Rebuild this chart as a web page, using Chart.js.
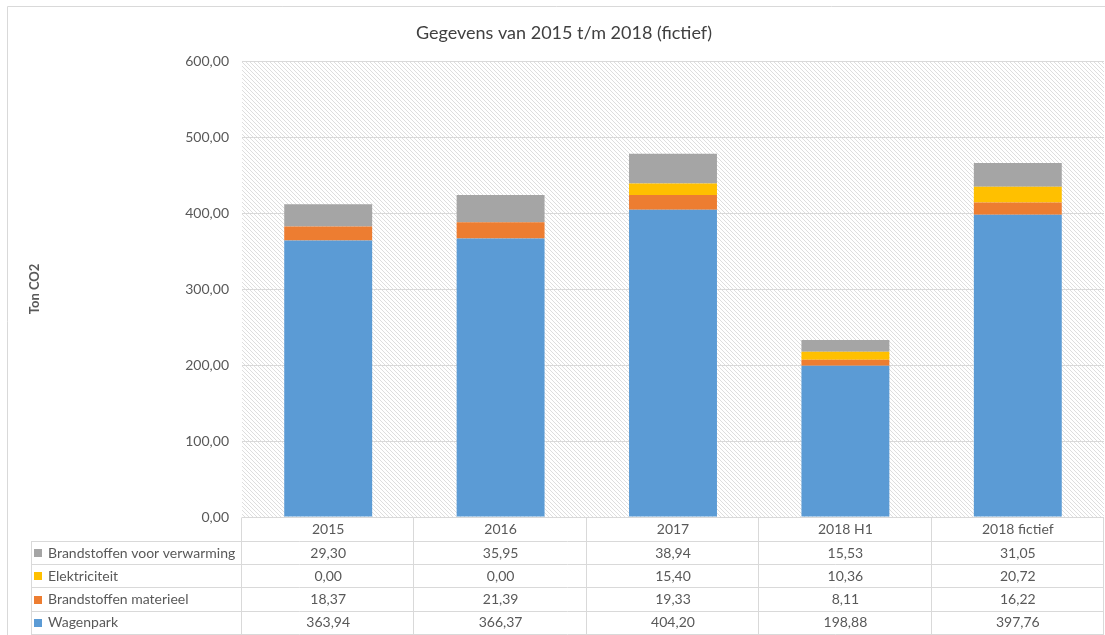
<!DOCTYPE html>
<html>
<head>
<meta charset="utf-8">
<script src="https://cdn.jsdelivr.net/npm/chart.js@4/dist/chart.umd.min.js"></script>
<style>
  html, body { margin: 0; padding: 0; background: #ffffff; }
  #wrap { width: 1105px; height: 635px; position: relative; }
</style>
</head>
<body>
<div id="wrap"><canvas id="c" width="1105" height="635"></canvas></div>
<script>
const categories = ['2015', '2016', '2017', '2018 H1', '2018 fictief'];
const wagenpark = [363.94, 366.37, 404.20, 198.88, 397.76];
const materieel = [18.37, 21.39, 19.33, 8.11, 16.22];
const elektriciteit = [0.00, 0.00, 15.40, 10.36, 20.72];
const verwarming = [29.30, 35.95, 38.94, 15.53, 31.05];
const yTicks = [0, 100, 200, 300, 400, 500, 600];
const chartTitle = 'Gegevens van 2015 t/m 2018 (fictief)';

const FONT = 'Lato, "Open Sans", sans-serif';
const fmt = v => v.toFixed(2).replace('.', ',');

const datasets = [
  { label: 'Wagenpark', data: wagenpark, backgroundColor: '#5B9BD5' },
  { label: 'Brandstoffen materieel', data: materieel, backgroundColor: '#ED7D31' },
  { label: 'Elektriciteit', data: elektriciteit, backgroundColor: '#FFC000' },
  { label: 'Brandstoffen voor verwarming', data: verwarming, backgroundColor: '#A5A5A5' }
];
// table order (top to bottom)
const tableRows = [3, 2, 1, 0];

function makePattern(ctx) {
  const t = document.createElement('canvas');
  t.width = 4; t.height = 4;
  const c = t.getContext('2d');
  c.fillStyle = '#ffffff';
  c.fillRect(0, 0, 4, 4);
  c.strokeStyle = '#dedede';
  c.lineWidth = 1;
  c.beginPath();
  c.moveTo(-1, -1); c.lineTo(5, 5);
  c.moveTo(-1, 3); c.lineTo(1, 5);
  c.moveTo(3, -1); c.lineTo(5, 1);
  c.stroke();
  return ctx.createPattern(t, 'repeat');
}

const decor = {
  id: 'decor',
  beforeDraw(chart) {
    const { ctx, chartArea: a } = chart;
    ctx.save();
    // outer border
    ctx.strokeStyle = '#d9d9d9';
    ctx.lineWidth = 1;
    ctx.beginPath();
    ctx.moveTo(7.5, 700); ctx.lineTo(7.5, 6.5); ctx.lineTo(1200, 6.5);
    ctx.stroke();
    // hatched plot background
    ctx.fillStyle = makePattern(ctx);
    ctx.fillRect(a.left, a.top, a.right - a.left, a.bottom - a.top);
    ctx.restore();
  },
  afterDraw(chart) {
    const { ctx, chartArea: a } = chart;
    const xs = chart.scales.x;
    const n = categories.length;
    const cw = (xs.right - xs.left) / n;
    const top = xs.bottom;
    const rh = 23.2;
    const tableLeft = 31;
    ctx.save();
    // title
    ctx.font = '18px ' + FONT;
    ctx.fillStyle = '#404040';
    ctx.textAlign = 'center';
    ctx.textBaseline = 'middle';
    ctx.fillText(chartTitle, 564, 33);

    ctx.strokeStyle = '#d9d9d9';
    ctx.lineWidth = 1;
    ctx.beginPath();
    // horizontal lines
    ctx.moveTo(a.left, Math.round(a.bottom) + 0.5);
    ctx.lineTo(xs.right, Math.round(a.bottom) + 0.5);
    for (let r = 0; r <= tableRows.length; r++) {
      const y = Math.round(top + r * rh) + 0.5;
      ctx.moveTo(tableLeft, y); ctx.lineTo(xs.right, y);
    }
    // vertical lines
    const yEnd = Math.round(top + tableRows.length * rh) + 0.5;
    ctx.moveTo(tableLeft + 0.5, Math.round(top) + 0.5);
    ctx.lineTo(tableLeft + 0.5, yEnd);
    for (let i = 0; i <= n; i++) {
      const x = Math.round(xs.left + i * cw) - 0.5;
      ctx.moveTo(x, Math.round(a.bottom) + 0.5); ctx.lineTo(x, yEnd);
    }
    ctx.stroke();

    ctx.font = '14px ' + FONT;
    ctx.textBaseline = 'middle';
    ctx.fillStyle = '#595959';
    ctx.textAlign = 'center';
    // header row (category labels)
    const hy = (a.bottom + top) / 2 + 0.5;
    categories.forEach((c, i) => ctx.fillText(c, xs.getPixelForValue(i), hy));

    tableRows.forEach((di, r) => {
      const ds = chart.data.datasets[di];
      const cy = top + r * rh + rh / 2 + 0.5;
      ctx.fillStyle = ds.backgroundColor;
      ctx.fillRect(34, Math.round(cy - 4), 8, 8);
      ctx.fillStyle = '#595959';
      ctx.textAlign = 'left';
      ctx.fillText(ds.label, 48, cy);
      ctx.textAlign = 'center';
      ds.data.forEach((v, i) => {
        ctx.fillText(fmt(v), xs.getPixelForValue(i), cy);
      });
    });
    ctx.restore();
  }
};

new Chart(document.getElementById('c'), {
  type: 'bar',
  data: { labels: categories, datasets },
  plugins: [decor],
  options: {
    responsive: false,
    devicePixelRatio: 1,
    animation: false,
    layout: { padding: { left: 0, right: 1, top: 61, bottom: 94 } },
    datasets: { bar: { categoryPercentage: 1, barPercentage: 0.51 } },
    plugins: {
      legend: { display: false },
      tooltip: { enabled: false },
      title: { display: false }
    },
    scales: {
      x: {
        stacked: true,
        grid: { display: false },
        border: { display: false },
        ticks: { display: false },
        afterFit(s) { s.height = 24; }
      },
      y: {
        stacked: true,
        min: 0,
        max: 600,
        afterBuildTicks(s) { s.ticks = yTicks.map(v => ({ value: v })); },
        grid: { color: '#d9d9d9', drawTicks: false },
        border: { display: false },
        ticks: { color: '#595959', font: { family: FONT, size: 14 }, padding: 13, callback: v => fmt(v) },
        title: {
          display: true,
          text: 'Ton CO2',
          color: '#595959',
          font: { family: FONT, size: 13, weight: 'bold' },
          padding: { top: 27, bottom: 0 }
        },
        afterFit(s) { s.width = 242; }
      }
    }
  }
});
</script>
</body>
</html>
